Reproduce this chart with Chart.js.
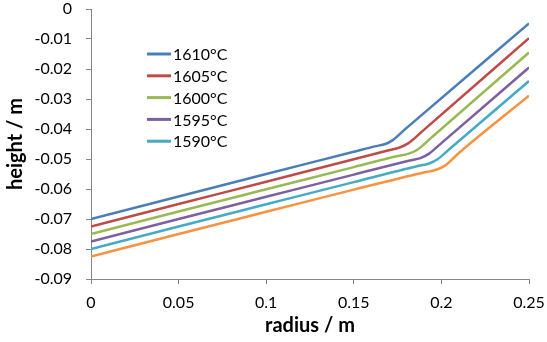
<!DOCTYPE html>
<html>
<head>
<meta charset="utf-8">
<script src="https://cdn.jsdelivr.net/npm/chart.js@4"></script>
<style>
  html, body { margin: 0; padding: 0; background: #fff; }
  #wrap { width: 547px; height: 342px; position: relative; }
</style>
</head>
<body>
<div id="wrap"><canvas id="c" width="547" height="342"></canvas></div>
<script>
// profile data: radius (m) vs height (m) per casting temperature
const labels = ['1610°C', '1605°C', '1600°C', '1595°C', '1590°C', ''];
const colors = ['#4A7EBB', '#BE4B48', '#98B954', '#7D60A0', '#46AAC5', '#F69240'];

const r1610 = [0, 0.05, 0.1, 0.15, 0.162, 0.168, 0.172, 0.18, 0.25];
const h1610 = [-0.07, -0.0625, -0.055, -0.0476, -0.0458, -0.045, -0.0438, -0.0397, -0.0048];
const r1605 = [0, 0.05, 0.1, 0.15, 0.17, 0.176, 0.181, 0.19, 0.25];
const h1605 = [-0.0725, -0.065, -0.0576, -0.0501, -0.0471, -0.0462, -0.0448, -0.0403, -0.0097];
const r1600 = [0, 0.05, 0.1, 0.15, 0.175, 0.181, 0.186, 0.195, 0.25];
const h1600 = [-0.075, -0.0675, -0.0601, -0.0527, -0.049, -0.0483, -0.047, -0.0425, -0.0145];
const r1595 = [0, 0.05, 0.1, 0.15, 0.182, 0.188, 0.193, 0.2, 0.25];
const h1595 = [-0.0775, -0.07, -0.0626, -0.0552, -0.0505, -0.0497, -0.0482, -0.0447, -0.0195];
const r1590 = [0, 0.05, 0.1, 0.15, 0.186, 0.193, 0.198, 0.205, 0.25];
const h1590 = [-0.08, -0.0725, -0.0651, -0.0577, -0.0524, -0.0515, -0.05, -0.0465, -0.024];
const r1585 = [0, 0.05, 0.1, 0.15, 0.19, 0.197, 0.202, 0.21, 0.25];
const h1585 = [-0.0825, -0.075, -0.0676, -0.0602, -0.0545, -0.0536, -0.0522, -0.048, -0.0289];

const xTicks = [0, 0.05, 0.1, 0.15, 0.2, 0.25];
const yTicks = [0, -0.01, -0.02, -0.03, -0.04, -0.05, -0.06, -0.07, -0.08, -0.09];

const radii = [r1610, r1605, r1600, r1595, r1590, r1585];
const heights = [h1610, h1605, h1600, h1595, h1590, h1585];

const FONT = 'Lato, "Open Sans", sans-serif';
const AXIS = '#868686';

// legend drawn inside the plot, skipping unlabeled series
const boxLegend = {
  id: 'boxLegend',
  afterDraw(chart) {
    const ctx = chart.ctx;
    ctx.save();
    ctx.font = '16px ' + FONT;
    ctx.textBaseline = 'middle';
    let y = 54;
    chart.data.datasets.forEach(ds => {
      if (!ds.label) return;
      ctx.strokeStyle = ds.borderColor;
      ctx.lineWidth = 3;
      ctx.beginPath();
      ctx.moveTo(147, y);
      ctx.lineTo(171, y);
      ctx.stroke();
      ctx.fillStyle = '#000';
      ctx.fillText(ds.label, 173, y + 1);
      y += 21.8;
    });
    ctx.restore();
  }
};

new Chart(document.getElementById('c'), {
  type: 'scatter',
  data: {
    datasets: labels.map((lab, i) => ({
      label: lab,
      data: radii[i].map((x, j) => ({ x: x, y: heights[i][j] })),
      showLine: true,
      borderColor: colors[i],
      backgroundColor: colors[i],
      borderWidth: 2.5,
      pointRadius: 0,
      cubicInterpolationMode: 'monotone'
    }))
  },
  options: {
    responsive: false,
    animation: false,
    devicePixelRatio: 1,
    layout: { padding: { top: 9, right: 18, left: 0, bottom: 0 } },
    plugins: { legend: { display: false }, tooltip: { enabled: false } },
    scales: {
      x: {
        type: 'linear',
        min: 0, max: 0.25,
        afterBuildTicks: s => { s.ticks = xTicks.map(v => ({ value: v })); },
        afterFit: s => { s.height = 63; s.paddingLeft = 0; s.paddingRight = 0; },
        border: { color: AXIS, width: 1 },
        grid: { drawOnChartArea: false, color: AXIS, tickLength: 5 },
        ticks: { color: '#000', font: { family: FONT, size: 16 }, padding: 9, maxRotation: 0,
          autoSkip: false, callback: v => String(v) },
        title: { display: true, text: 'radius / m', color: '#000',
          font: { family: FONT, size: 20, weight: 'bold' }, padding: { top: 0 } }
      },
      y: {
        type: 'linear',
        min: -0.09, max: 0,
        afterBuildTicks: s => { s.ticks = yTicks.map(v => ({ value: v })); },
        afterFit: s => { s.width = 91; s.paddingTop = 0; s.paddingBottom = 0; },
        border: { color: AXIS, width: 1 },
        grid: { drawOnChartArea: false, color: AXIS, tickLength: 5 },
        ticks: { color: '#000', font: { family: FONT, size: 16 }, padding: 14,
          autoSkip: false, callback: v => String(v) },
        title: { display: true, text: 'height / m', color: '#000',
          font: { family: FONT, size: 20, weight: 'bold' }, padding: { bottom: 0 } }
      }
    }
  },
  plugins: [boxLegend]
});
</script>
</body>
</html>
